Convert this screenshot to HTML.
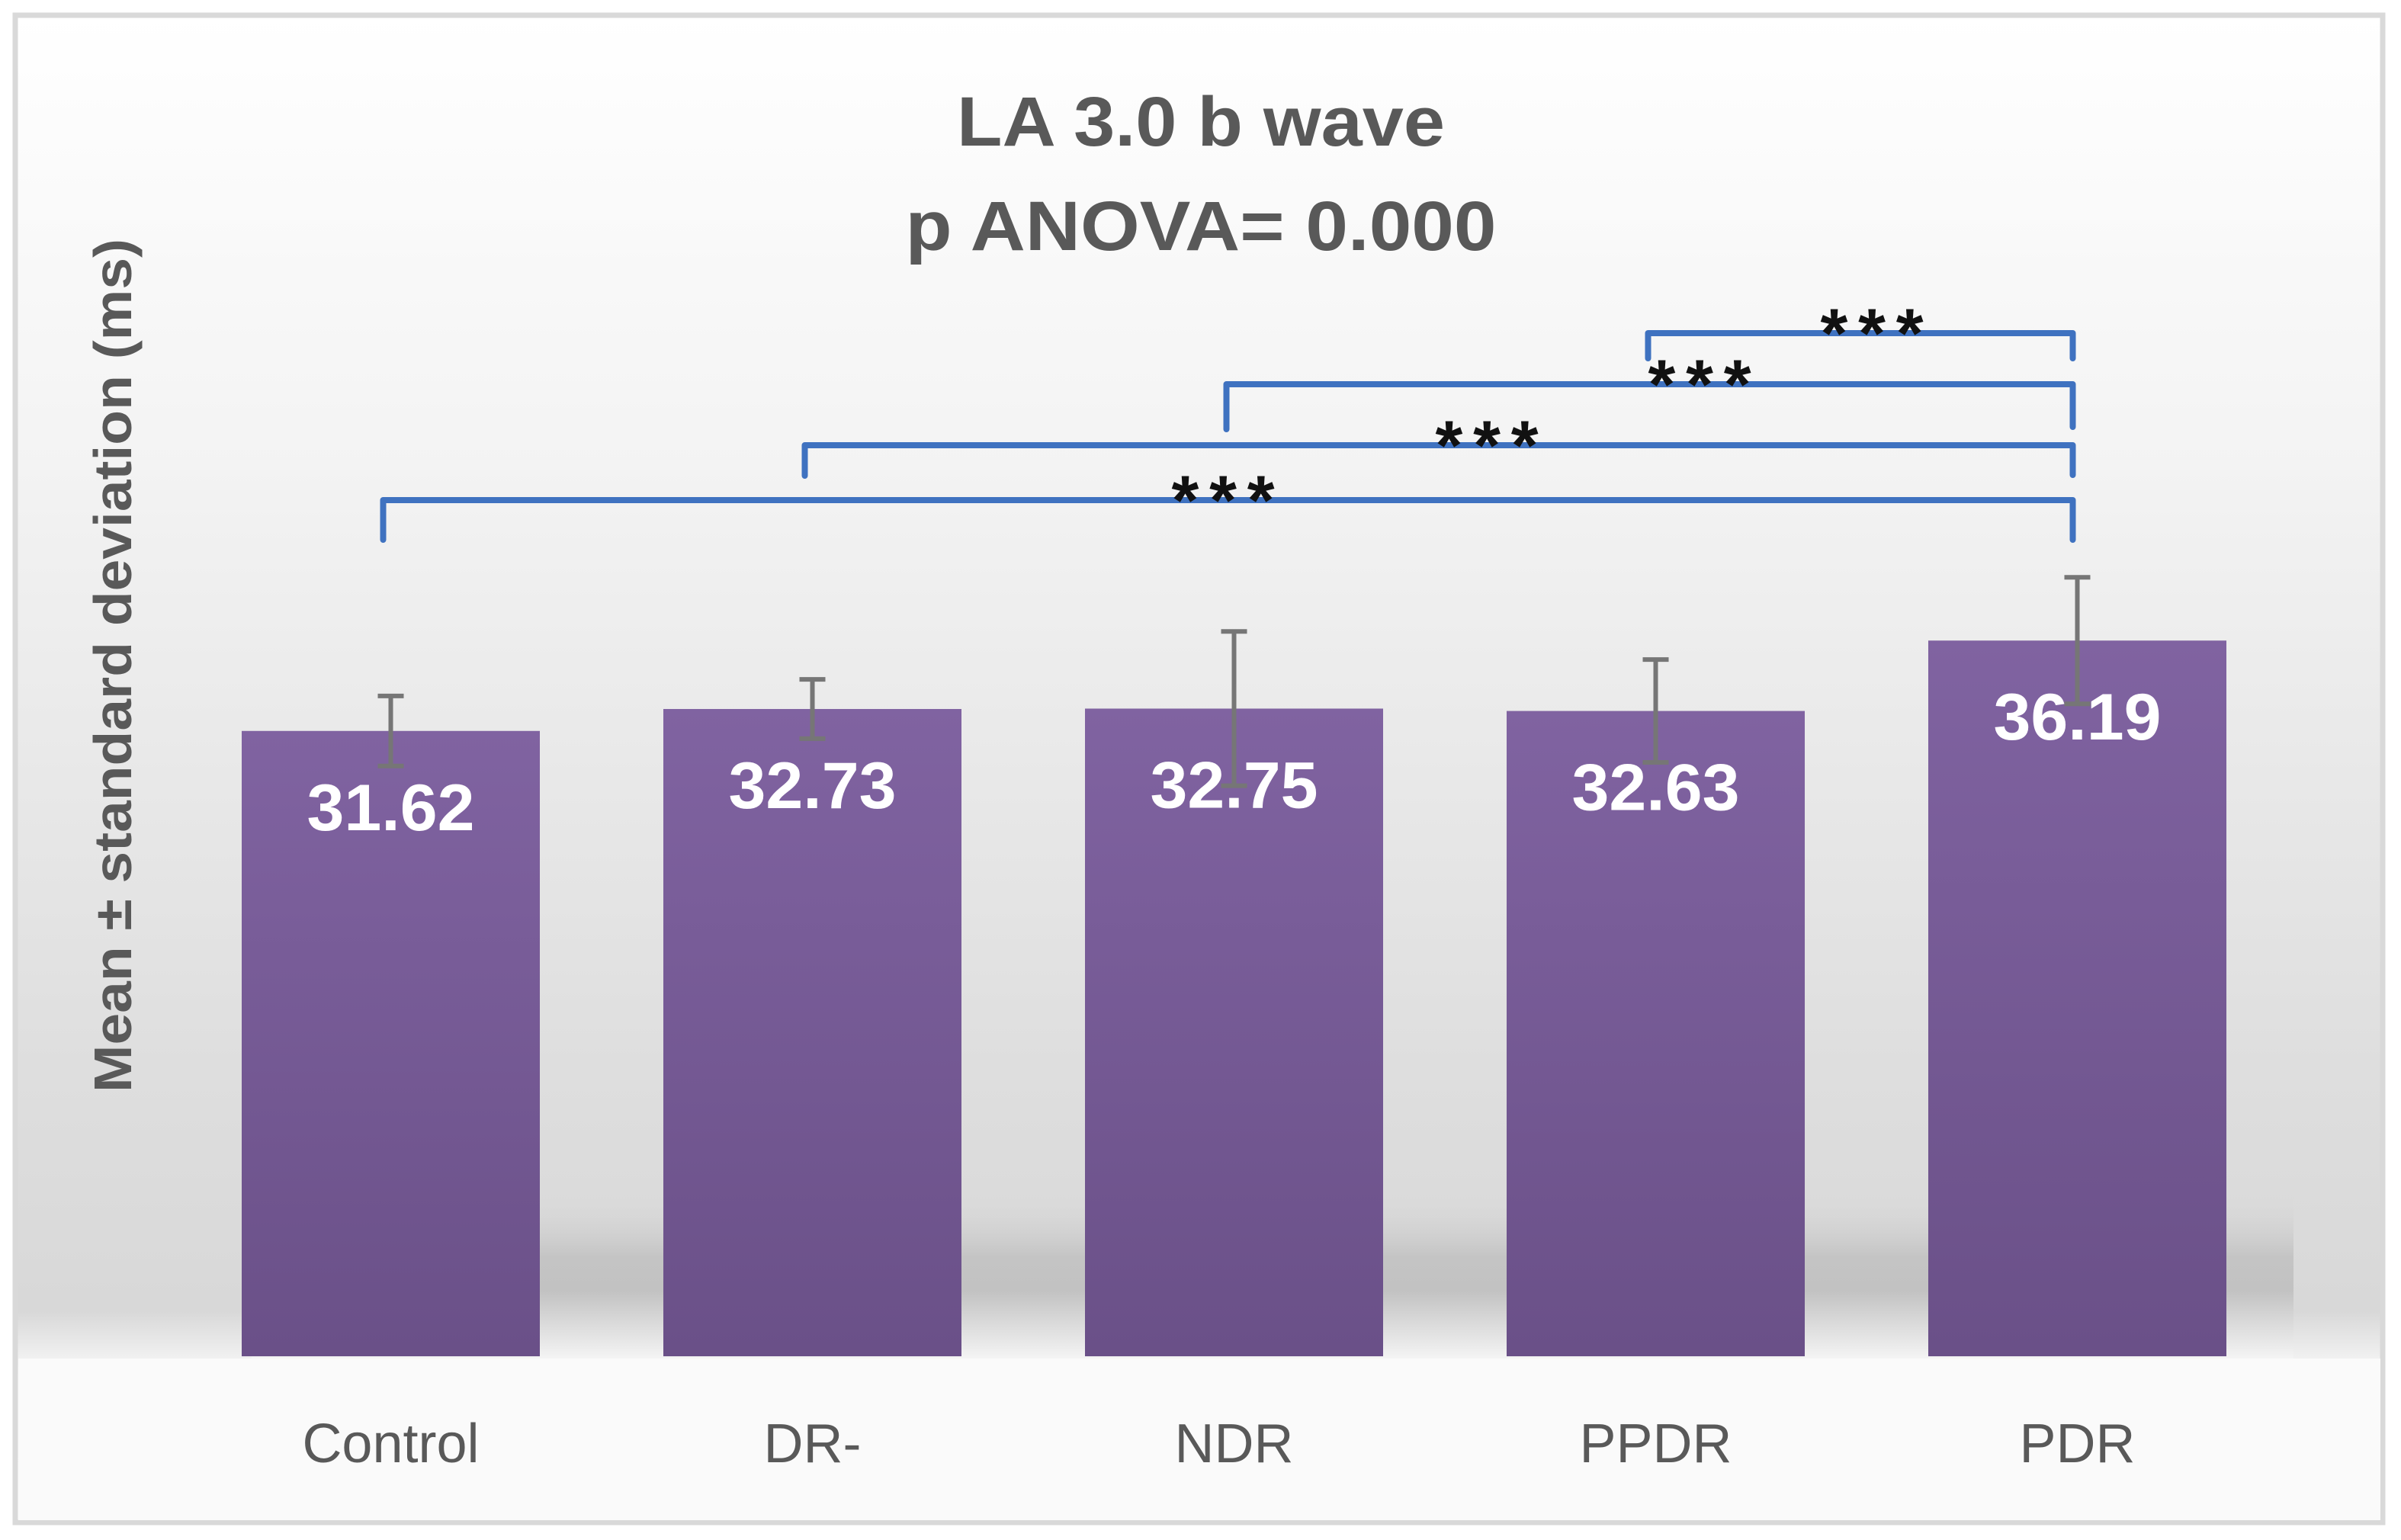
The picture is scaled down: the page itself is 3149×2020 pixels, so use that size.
<!DOCTYPE html>
<html><head><meta charset="utf-8"><style>
html,body{margin:0;padding:0;background:#fff;}
svg{display:block;}
</style></head><body>
<svg id="chart" width="3149" height="2020" viewBox="0 0 3149 2020" xmlns="http://www.w3.org/2000/svg" font-family="'Liberation Sans', sans-serif">
<defs>
<linearGradient id="bg" x1="0" y1="0" x2="0" y2="1">
<stop offset="0" stop-color="#ffffff"/>
<stop offset="0.3" stop-color="#f3f3f3"/>
<stop offset="0.7" stop-color="#dedede"/>
<stop offset="0.86" stop-color="#d8d8d8"/>
<stop offset="0.9" stop-color="#f8f8f8"/>
<stop offset="1" stop-color="#ffffff"/>
</linearGradient>
<linearGradient id="shadow" x1="0" y1="0" x2="0" y2="1">
<stop offset="0" stop-color="#dcdcdc" stop-opacity="0"/>
<stop offset="0.4" stop-color="#c4c4c4"/>
<stop offset="0.6" stop-color="#c2c2c2"/>
<stop offset="1" stop-color="#f4f4f4"/>
</linearGradient>
<linearGradient id="barg" x1="0" y1="0" x2="0" y2="1">
<stop offset="0" stop-color="#8063a1"/>
<stop offset="1" stop-color="#6a5088"/>
</linearGradient>
</defs>
<rect x="20" y="20" width="3105" height="1977" fill="url(#bg)" stroke="#d9d9d9" stroke-width="7"/>
<rect x="330" y="1560" width="2678" height="222" fill="url(#shadow)"/>
<rect x="24" y="1782" width="3098" height="212" fill="#fafafa"/>
<text x="1575" y="191" text-anchor="middle" font-size="92" font-weight="bold" fill="#595959" textLength="640" lengthAdjust="spacingAndGlyphs">LA 3.0 b wave</text>
<text x="1575" y="328" text-anchor="middle" font-size="92" font-weight="bold" fill="#595959" textLength="775" lengthAdjust="spacingAndGlyphs">p ANOVA= 0.000</text>
<text transform="translate(172,873) rotate(-90)" text-anchor="middle" font-size="70" font-weight="bold" fill="#595959" textLength="1120" lengthAdjust="spacingAndGlyphs">Mean ± standard deviation (ms)</text>
<g id="bars"></g>
<g id="brackets"></g>
</svg>
<script>
const categories = ["Control","DR-","NDR","PPDR","PDR"];
const means = [31.62, 32.73, 32.75, 32.63, 36.19];
const sds = [1.77, 1.5, 3.9, 2.6, 3.2];
const valueLabels = ["31.62","32.73","32.75","32.63","36.19"];
// comparisons: [fromIndex, toIndex]
const compFrom = [0, 1, 2, 3];
const compTo = [4, 4, 4, 4];
const compLabels = ["***","***","***","***"];

const NS = "http://www.w3.org/2000/svg";
const baseY = 1779, pxPerUnit = 25.94;
const x0 = 317, pitch = 553, barW = 391;
const y = v => baseY - v * pxPerUnit;
const xc = i => x0 + i * pitch + barW / 2;
function mk(tag, attrs, parent) {
  const e = document.createElementNS(NS, tag);
  for (const k in attrs) e.setAttribute(k, attrs[k]);
  parent.appendChild(e);
  return e;
}
const gb = document.getElementById("bars");
categories.forEach((c, i) => {
  const top = y(means[i]);
  const r = mk("rect", {x: xc(i) - barW/2, y: top, width: barW, height: baseY - top, fill: "url(#barg)"}, gb);
  
  
  const e1 = y(means[i] + sds[i]), e2 = y(means[i] - sds[i]);
  const eb = mk("path", {d: `M${xc(i)},${e1}V${e2}M${xc(i)-17},${e1}h34M${xc(i)-17},${e2}h34`, stroke: "#767676", "stroke-width": 6, fill: "none"}, gb);
  
  
  const vl = mk("text", {x: xc(i), y: top + 130, "text-anchor": "middle", "font-size": 86, "font-weight": "bold", fill: "#ffffff", textLength: 220, lengthAdjust: "spacingAndGlyphs"}, gb);
  vl.textContent = valueLabels[i];
  
  
  const cl = mk("text", {x: xc(i), y: 1918, "text-anchor": "middle", "font-size": 72, fill: "#595959"}, gb);
  cl.textContent = c;
  
  
});
const gr = document.getElementById("brackets");
const lineYs = [656, 584, 504, 437];
const leftDrop = [708, 624, 563, 470];
const rightDrop = [708, 623, 560, 470];
compFrom.forEach((f, k) => {
  const t = compTo[k];
  const lx = xc(f) - 10, rx = xc(t) - 6;
  const ly = lineYs[k];
  const p = mk("path", {d: `M${lx},${leftDrop[k]}V${ly}H${rx}V${rightDrop[k]}`, stroke: "#3f72c0", "stroke-width": 8, fill: "none", "stroke-linejoin": "round", "stroke-linecap": "round"}, gr);
  
  
  const starX = [1604, 1950, 2229, 2455][k];
  const st = mk("text", {x: starX, y: ly - 6 + 38, "text-anchor": "middle", "font-size": 92, "font-weight": "bold", fill: "#111", textLength: 135, lengthAdjust: "spacing"}, gr);
  st.textContent = compLabels[k];
  
  
});
</script>
</body></html>
